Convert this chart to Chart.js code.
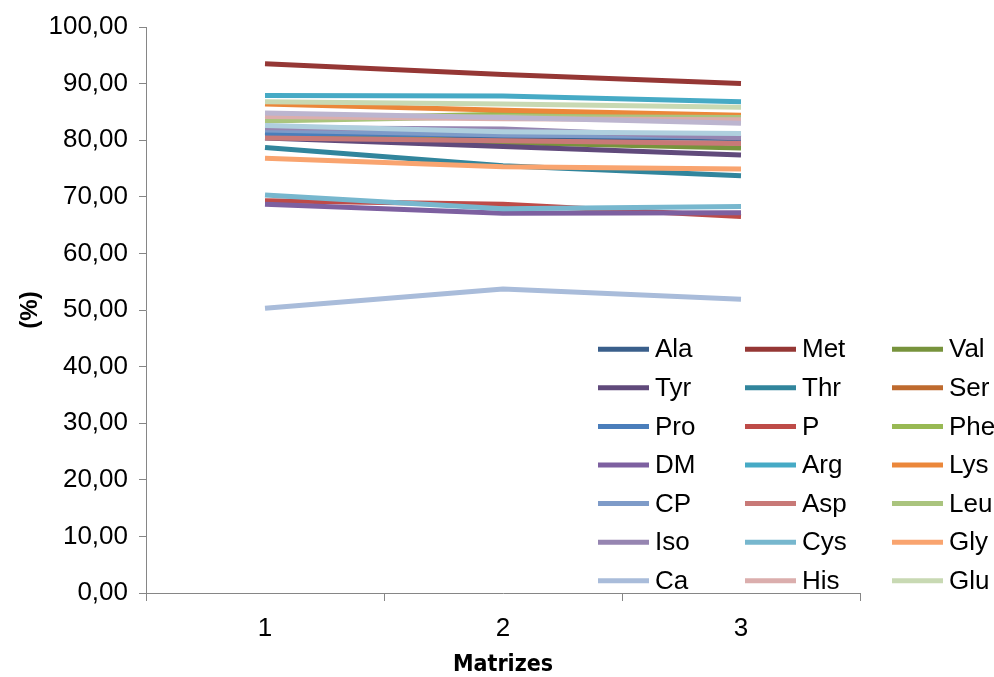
<!DOCTYPE html>
<html>
<head>
<meta charset="utf-8">
<script src="https://cdn.jsdelivr.net/npm/chart.js@4/dist/chart.umd.min.js"></script>
<style>
  html, body { margin: 0; padding: 0; background: #ffffff; }
  #wrap { width: 994px; height: 677px; }
</style>
</head>
<body>
<div id="wrap"><canvas id="chart" width="994" height="677"></canvas></div>
<script>
// Categories on the x axis
const categories = ['1', '2', '3'];

// Digestibility (%) per component and matrix
const ala = [81.0, 80.6, 80.3];
const met = [93.5, 91.6, 90.0];
const val = [81.4, 79.6, 78.6];
const tyr = [80.4, 78.9, 77.4];
const thr = [78.7, 75.5, 73.7];
const ser = [81.6, 81.2, 80.8];
const pro = [81.2, 80.9, 80.5];
const p   = [69.3, 68.7, 66.5];
const phe = [83.7, 84.6, 84.3];
const dm  = [68.7, 67.1, 67.2];
const arg = [87.9, 87.8, 86.8];
const lys = [86.4, 85.3, 84.4];
const cp  = [81.8, 80.9, 80.6];
const asp = [80.4, 79.9, 79.4];
const leu = [83.4, 84.2, 84.0];
const iso = [82.2, 82.0, 80.4];
const cys = [70.3, 67.9, 68.3];
const gly = [76.8, 75.3, 74.9];
const ca  = [50.3, 53.7, 51.9];
const his = [84.2, 83.8, 83.6];
const glu = [86.8, 86.4, 85.8];
// two further series plotted without a legend entry
const s22 = [84.8, 84.0, 83.0];
const s23 = [82.6, 81.5, 81.2];

// Y axis tick range
const yMin = 0, yMax = 100, yStep = 10;

const series = [
  { name: 'Ala', values: ala, color: '#3A5F8B' },
  { name: 'Met', values: met, color: '#953735' },
  { name: 'Val', values: val, color: '#77933C' },
  { name: 'Tyr', values: tyr, color: '#604A7B' },
  { name: 'Thr', values: thr, color: '#31859C' },
  { name: 'Ser', values: ser, color: '#BE6A2E' },
  { name: 'Pro', values: pro, color: '#4A7EBB' },
  { name: 'P',   values: p,   color: '#BE4B48' },
  { name: 'Phe', values: phe, color: '#98B954' },
  { name: 'DM',  values: dm,  color: '#7D60A0' },
  { name: 'Arg', values: arg, color: '#46AAC5' },
  { name: 'Lys', values: lys, color: '#EB873A' },
  { name: 'CP',  values: cp,  color: '#7E9BC8' },
  { name: 'Asp', values: asp, color: '#C87977' },
  { name: 'Leu', values: leu, color: '#AAC47E' },
  { name: 'Iso', values: iso, color: '#9685B1' },
  { name: 'Cys', values: cys, color: '#77B7CE' },
  { name: 'Gly', values: gly, color: '#F9A46F' },
  { name: 'Ca',  values: ca,  color: '#A9BCDA' },
  { name: 'His', values: his, color: '#DBAEAD' },
  { name: 'Glu', values: glu, color: '#C8D9B3' },
  { name: 'S22', values: s22, color: '#BCB5CF', hidden: true },
  { name: 'S23', values: s23, color: '#AFCFDE', hidden: true }
];

const datasets = series.map((s, i) => ({
  label: s.name,
  data: s.values,
  borderColor: s.color,
  backgroundColor: s.color,
  borderWidth: 5,
  pointRadius: 0,
  tension: 0,
  fill: false,
  order: -i,               // later series painted on top
  inLegend: !s.hidden
}));

const fontFamily = '"Liberation Sans", Arial, sans-serif';

// Three-column legend laid over the lower right of the plot
const gridLegend = {
  id: 'gridLegend',
  afterDraw(chart) {
    const ctx = chart.ctx;
    const items = chart.data.datasets.filter(d => d.inLegend);
    const colX = [598, 745, 892];
    const rowY0 = 349.3, rowH = 38.57;
    ctx.save();
    ctx.font = '26px ' + fontFamily;
    ctx.textBaseline = 'middle';
    ctx.textAlign = 'left';
    items.forEach((d, i) => {
      const col = i % 3, row = Math.floor(i / 3);
      const x = colX[col], y = rowY0 + row * rowH;
      ctx.strokeStyle = d.borderColor;
      ctx.lineWidth = 5;
      ctx.lineCap = 'butt';
      ctx.beginPath();
      ctx.moveTo(x, y);
      ctx.lineTo(x + 51, y);
      ctx.stroke();
      ctx.fillStyle = '#000000';
      ctx.fillText(d.label, x + 57, y + 1);
    });
    ctx.restore();
  }
};

new Chart(document.getElementById('chart'), {
  type: 'line',
  data: { labels: categories, datasets },
  options: {
    responsive: false,
    animation: false,
    devicePixelRatio: 1,
    layout: { padding: { left: 0, right: 134, top: 27, bottom: 0 } },
    plugins: { legend: { display: false }, tooltip: { enabled: false } },
    elements: { line: { borderJoinStyle: 'round' } },
    scales: {
      x: {
        type: 'category',
        offset: true,
        grid: { offset: true, drawOnChartArea: false, drawTicks: true, tickLength: 8, color: '#868686', lineWidth: 1 },
        border: { display: true, color: '#868686', width: 1 },
        ticks: { color: '#000000', font: { family: fontFamily, size: 26 }, padding: 12, maxRotation: 0 },
        title: {
          display: true, text: 'Matrizes', color: '#000000',
          font: { family: '"DejaVu Sans Condensed", "DejaVu Sans", sans-serif', size: 23, weight: 'bold', lineHeight: 1.05 },
          padding: { top: 0, bottom: 0 }
        },
        afterFit(scale) { scale.height = 84; }
      },
      y: {
        min: yMin, max: yMax,
        grid: { drawOnChartArea: false, drawTicks: true, tickLength: 7, color: '#868686', lineWidth: 1 },
        border: { display: true, color: '#868686', width: 1 },
        ticks: {
          stepSize: yStep, autoSkip: false, color: '#000000', padding: 11,
          font: { family: fontFamily, size: 26 },
          callback: v => v.toFixed(2).replace('.', ',')
        },
        title: {
          display: true, text: '(%)', color: '#000000',
          font: { family: fontFamily, size: 24, weight: 'bold' },
          padding: { top: 16, bottom: 0 }
        },
        afterFit(scale) { scale.width = 146; }
      }
    }
  },
  plugins: [gridLegend]
});
</script>
</body>
</html>
